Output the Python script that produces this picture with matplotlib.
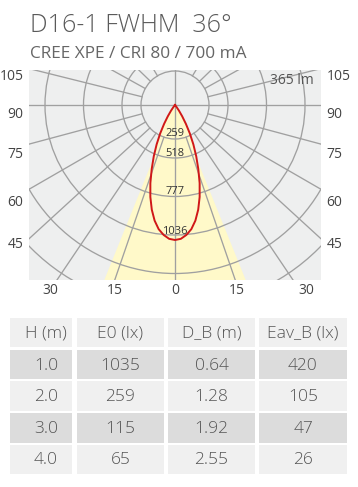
import numpy as np
import matplotlib
matplotlib.use("Agg")
import matplotlib.pyplot as plt
from matplotlib.patches import Circle, Rectangle, Polygon

# ---------------- data ----------------
title = "D16-1 FWHM  36°"
subtitle = "CREE XPE / CRI 80 / 700 mA"
flux_label = "365 lm"

# luminous intensity distribution (angle from nadir, cd)
angles_deg = [0, 2.5, 5, 7.5, 10, 12.5, 15, 17.5, 20, 22.5, 25, 27.5, 30, 32.5, 35, 37.5, 40]
intensity_cd = [1035, 1027, 1000, 960, 900, 822, 730, 628, 522, 425, 333, 247, 167, 102, 53, 20, 0]

ring_labels = ["259", "518", "777", "1036"]
side_tick_labels = ["105", "90", "75", "60", "45"]
bottom_tick_labels = ["30", "15", "0", "15", "30"]

beam_half_angle = 22  # deg

headers = ["H (m)", "E0 (lx)", "D_B (m)", "Eav_B (lx)"]
H_m = ["1.0", "2.0", "3.0", "4.0"]
E0_lx = ["1035", "259", "115", "65"]
DB_m = ["0.64", "1.28", "1.92", "2.55"]
EavB_lx = ["420", "105", "47", "26"]

# ---------------- layout / style ----------------
W, H = 358, 487
FONT = ["Open Sans", "DejaVu Sans"]
GRID = "#a0a0a0"
BG = "#eeefef"
YELLOW = "#fff9c9"
RED = "#d01818"
TXT = "#555555"

ring_radii = [53, 91.5, 130, 168.5, 203]
hole_radius = 34
ring_label_y = [-29, -49, -87, -127]
ray_angles = [19, 34, 47.5, 60, 75, 104, 119, 134, 149]
side_tick_y = [30, -7, -48, -95, -138]
bottom_tick_x = [-125, -60, 0, 62, 131]
scale = 135.0 / 1035.0  # chart units per cd

fig = plt.figure(figsize=(W / 100, H / 100), dpi=100)
fig.patch.set_facecolor("white")

# titles
fig.text(30 / W, 1 - 32 / H, title, fontsize=18, color="#5a5a5a",
         family=FONT, fontweight="light", va="baseline", ha="left")
fig.text(30 / W, 1 - 57.5 / H, subtitle, fontsize=12.4, color="#666666",
         family=FONT, va="baseline", ha="left")

# polar-style diagram
x0, x1, y0, y1 = 29, 321, 70, 280
ax = fig.add_axes([x0 / W, 1 - y1 / H, (x1 - x0) / W, (y1 - y0) / H])
cx, cy = 175, 105
ax.set_xlim(x0 - cx, x1 - cx)
ax.set_ylim(-(y1 - cy), cy - y0)
ax.set_facecolor(BG)
for s in ax.spines.values():
    s.set_visible(False)

# beam cone
L = 400
b = np.radians(beam_half_angle)
ax.add_patch(Polygon([(0, 0), (-L * np.sin(b), -L * np.cos(b)), (L * np.sin(b), -L * np.cos(b))],
                     closed=True, fc=YELLOW, ec="none", zorder=1))

# curve fill (yellow inside)
a = np.radians(np.array(angles_deg))
r = np.array(intensity_cd) * scale
xs = np.concatenate([-(r * np.sin(a))[::-1], (r * np.sin(a))[1:]])
ys = np.concatenate([-(r * np.cos(a))[::-1], -(r * np.cos(a))[1:]])
ax.fill(xs, ys, color=YELLOW, zorder=1.5, lw=0)

# grid
for rr in ring_radii + [hole_radius]:
    ax.add_patch(Circle((0, 0), rr, fill=False, ec=GRID, lw=0.95, zorder=2))
for ang in ray_angles:
    t = np.radians(ang)
    for sgn in (-1, 1):
        ax.plot([sgn * hole_radius * np.sin(t), sgn * L * np.sin(t)],
                [-hole_radius * np.cos(t), -L * np.cos(t)], color=GRID, lw=0.95, zorder=2)
ax.axhline(0, color=GRID, lw=0.95, zorder=2)
ax.axvline(0, color=GRID, lw=0.95, zorder=2)

# intensity curve
ax.plot(xs, ys, color=RED, lw=1.4, zorder=4, solid_joinstyle="round")

for lab, yy in zip(ring_labels, ring_label_y):
    ax.text(0, yy, lab, fontsize=8, color="#333333", family=FONT,
            ha="center", va="center", zorder=5)

ax.text(139, 24, flux_label, fontsize=10, color=TXT, family=FONT,
        ha="right", va="center", zorder=5)

ax.set_yticks(side_tick_y)
ax.set_yticklabels(side_tick_labels)
ax.set_xticks(bottom_tick_x)
ax.set_xticklabels(bottom_tick_labels)
ax.tick_params(axis="y", which="both", length=0, pad=4, labelsize=10,
               labelcolor="#444444", left=True, right=True, labelleft=True, labelright=True)
ax.tick_params(axis="x", length=0, pad=2, labelsize=10, labelcolor="#444444")
for lbl in ax.get_xticklabels() + ax.get_yticklabels():
    lbl.set_family(FONT)

# table
tax = fig.add_axes([0, 0, 1, 1])
tax.set_xlim(0, W)
tax.set_ylim(H, 0)
tax.axis("off")
col_edges = [(10, 72), (77, 164), (168, 255), (259, 347)]
row_edges = [(318, 347), (350, 379), (381, 411), (413, 443), (445, 474)]
row_colors = ["#f0f0f0", "#dcdcdc", "#f0f0f0", "#dcdcdc", "#f0f0f0"]
rows = [headers] + [list(t) for t in zip(H_m, E0_lx, DB_m, EavB_lx)]
for ri, (ra, rb) in enumerate(row_edges):
    for ci, (ca, cb) in enumerate(col_edges):
        tax.add_patch(Rectangle((ca, ra), cb - ca, rb - ra, fc=row_colors[ri], ec="none"))
        dx = 5 if ci == 0 else 0
        tax.text((ca + cb) / 2 + dx, (ra + rb) / 2 + 1, rows[ri][ci], fontsize=12.5,
                 color=TXT, family=FONT, fontweight="light", ha="center", va="center")

fig.savefig("out.png", dpi=100, facecolor="white")
